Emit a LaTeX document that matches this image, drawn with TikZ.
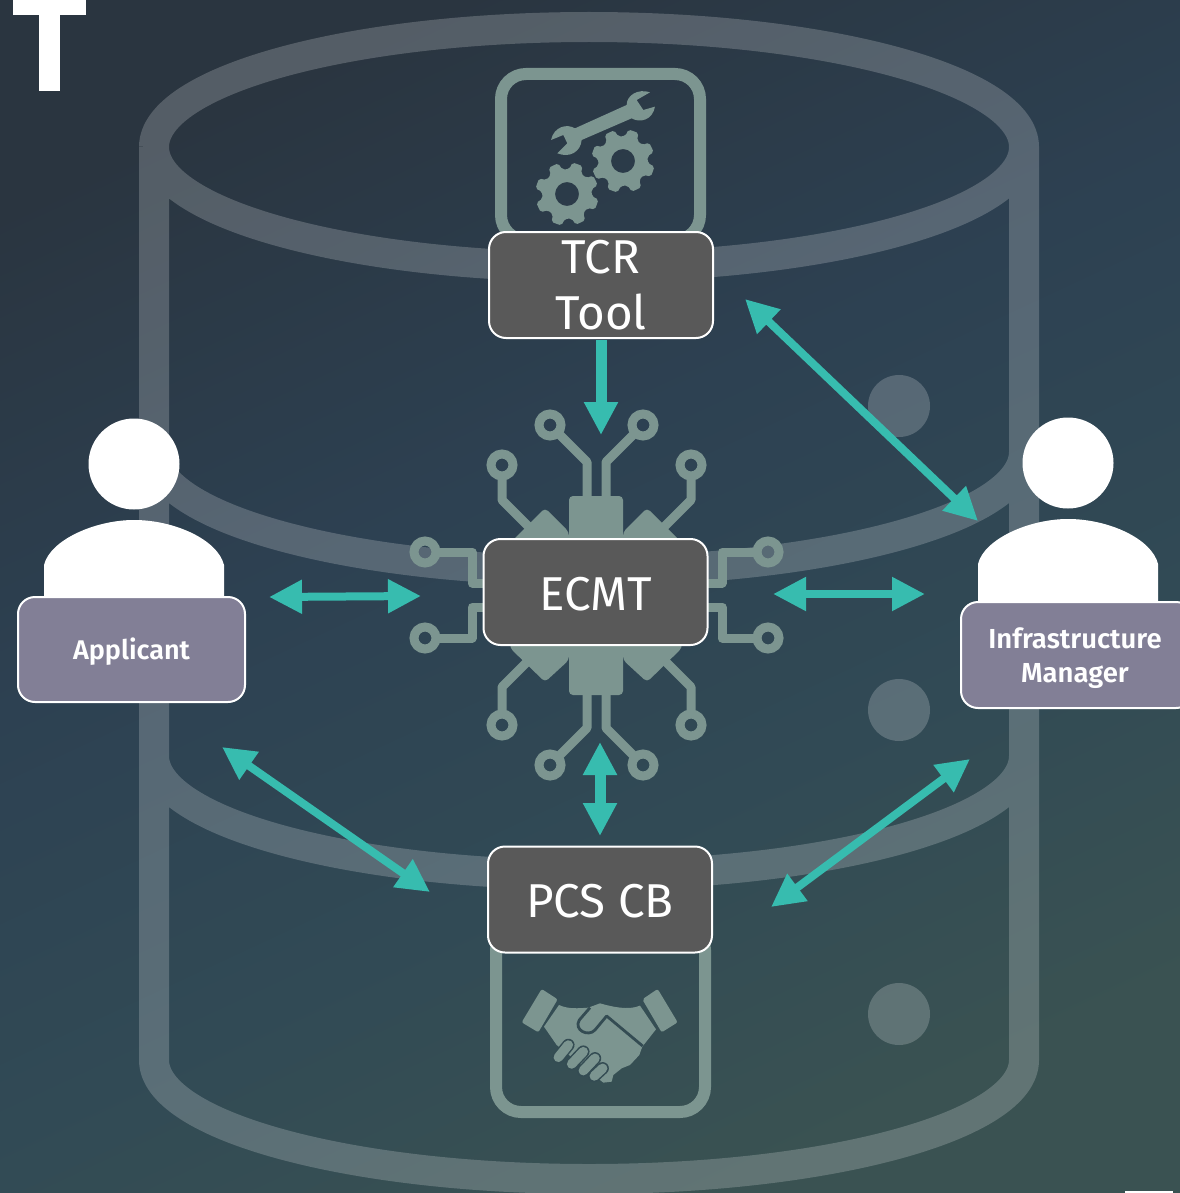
\documentclass[tikz,border=0pt]{standalone}
\usepackage{fontspec}
\setmainfont{Fira Sans}[BoldFont=* SemiBold]
\usetikzlibrary{arrows.meta,calc}
\definecolor{bandc}{RGB}{255,255,255}
\definecolor{iconc}{HTML}{7C9590}
\definecolor{tealc}{HTML}{37BCAF}
\definecolor{boxc}{HTML}{595959}
\definecolor{rolec}{HTML}{827F96}
\definecolor{bgA}{HTML}{2A3540}
\definecolor{bgB}{HTML}{2D4152}
\definecolor{bgD}{HTML}{314A55}
\definecolor{bgC}{HTML}{3A5252}
\definecolor{bgH}{HTML}{344C53}
\pgfdeclareverticalshading{bgsh}{100bp}{color(0bp)=(bgC); color(25bp)=(bgC); color(40bp)=(bgD); color(56bp)=(bgB); color(75bp)=(bgA); color(100bp)=(bgA)}
\tikzset{
  x=1pt,y=-1pt,
  band/.style={draw=bandc,draw opacity=.2,line width=30pt,line join=round},
  dotc/.style={fill=bandc,fill opacity=.2},
  frameicon/.style={draw=iconc,line width=12pt,rounded corners=25pt},
  trace/.style={draw=iconc,line width=9pt,line join=round,line cap=round},
  ring/.style={draw=iconc,line width=9pt},
  iconfill/.style={fill=iconc},
  darkbox/.style={draw=white,line width=2pt,fill=boxc,rounded corners=17pt,text=white,
     font=\fontsize{47.5}{56}\selectfont,align=center,inner sep=0pt,minimum width=224pt,minimum height=106pt},
  rolebox/.style={draw=white,line width=2pt,fill=rolec,rounded corners=17pt,text=white,
     font=\bfseries\fontsize{27}{34}\selectfont,align=center,inner sep=0pt,minimum width=227pt,minimum height=105pt},
  link/.style={draw=tealc,line width=8pt,-{Triangle[width=32pt,length=33pt,fill=tealc]}},
  linkv/.style={draw=tealc,line width=11pt,-{Triangle[width=32pt,length=33pt,fill=tealc]}},
  both/.style={draw=tealc,line width=8pt,{Triangle[width=32pt,length=33pt,fill=tealc]}-{Triangle[width=32pt,length=33pt,fill=tealc]}},
}
\newcommand{\mygear}[2]{%
  \fill[iconc,even odd rule,rounded corners=2pt]
    \foreach \i in {0,...,7}{
      \ifnum\i=0 ($(#1,#2)+(\i*45+10:32)$)\else -- ($(#1,#2)+(\i*45+10:32)$)\fi
      -- ($(#1,#2)+(\i*45+29:32)$) -- ($(#1,#2)+(\i*45+34:25)$) -- ($(#1,#2)+(\i*45+50:25)$)
    } -- cycle
    (#1,#2) circle[radius=12];
}
\newcommand{\lowered}[2]{\raisebox{-#1}[\height][\depth]{#2}}
\begin{document}
\begin{tikzpicture}
\useasboundingbox (0,0) rectangle (1179,1193);
\shade[shading=bgsh,shading angle=25] (-2,-2) rectangle (1181,1195);
% cylinder
\path[band]
  (154,147) arc[x radius=435,y radius=120,start angle=180,end angle=-180]
  (154,147) -- (154,1060) arc[x radius=435,y radius=119,start angle=180,end angle=0] -- (1024,147)
  (154,452) arc[x radius=435,y radius=119,start angle=180,end angle=0]
  (154,756) arc[x radius=435,y radius=119,start angle=180,end angle=0];
\foreach \yy in {406,710,1014}{\path[dotc] (899,\yy) circle[radius=31];}
% tool frame
\draw[frameicon] (501,74) rectangle (700,240);
\draw[frameicon] (496,925) rectangle (705,1112);
% wrench and gears
\begin{scope}[shift={(480,60)},x=.3333pt,y=-.3333pt]
\fill[iconc] (285,205) -- (440,135) .. controls (440,105) and (475,85) .. (510,97)
  -- (470,120) -- (490,150) -- (525,140) .. controls (518,180) and (480,190) .. (455,175)
  -- (305,240) .. controls (302,275) and (270,295) .. (232,280)
  -- (262,250) -- (250,225) -- (213,240) .. controls (222,200) and (260,190) .. (285,205) -- cycle;
\end{scope}
\mygear{567}{194}
\mygear{623}{161}
% handshake
\begin{scope}[shift={(480,940)},x=.3333pt,y=-.3333pt]
\fill[iconc,rounded corners=2pt] (185,147) -- (233,178) -- (175,277) -- (125,247) -- cycle;
\fill[iconc,rounded corners=2pt] (533,147) -- (593,247) -- (545,277) -- (487,178) -- cycle;
\fill[iconc] (237,195) .. controls (265,208) and (295,205) .. (325,203) -- (360,190)
  .. controls (395,200) and (445,212) .. (480,197) -- (528,268) -- (487,320)
  -- (478,345) -- (450,375) -- (425,385) -- (400,405) -- (395,425) -- (370,428)
  -- (230,315) -- (192,260) -- cycle;
\draw[bgH,line width=2.8pt,line join=round] (488,318) -- (380,228) -- (345,270)
  .. controls (325,292) and (280,270) .. (298,240) -- (330,203);
\foreach \xa/\ya/\xb/\yb in {235/352/265/315, 275/372/310/335, 310/392/345/355, 343/408/368/385}{
  \draw[bgH,line width=12.5pt,line cap=round] (\xa,\ya) -- (\xb,\yb);
  \draw[iconc,line width=9.5pt,line cap=round] (\xa,\ya) -- (\xb,\yb);
}
\end{scope}
% chip
\fill[iconc,rounded corners=4pt] (569,496) rectangle (623,695);
\fill[iconc,rounded corners=4pt] (545,508) -- (569,532) -- (569,660) -- (545,682) -- (510,648) -- (510,543) -- cycle;
\fill[iconc,rounded corners=4pt] (647,508) -- (623,532) -- (623,660) -- (647,682) -- (682,648) -- (682,543) -- cycle;
\foreach \cx/\cy in {550/425,643/425,502/465,691/465,502/725,691/725,550/765,643/765,425/552,768/552,425/638,768/638}{
  \draw[ring] (\cx,\cy) circle[radius=11];
}
\draw[trace,line cap=butt] (558,433) -- (587,462) -- (587,498);
\draw[trace,line cap=butt] (635,433) -- (606,462) -- (606,498);
\draw[trace,line cap=butt] (502,476) -- (502,500) -- (530,528);
\draw[trace,line cap=butt] (691,476) -- (691,500) -- (663,528);
\draw[trace,line cap=butt] (558,757) -- (587,728) -- (587,693);
\draw[trace,line cap=butt] (635,757) -- (606,728) -- (606,693);
\draw[trace,line cap=butt] (502,714) -- (502,687) -- (530,659);
\draw[trace,line cap=butt] (691,714) -- (691,687) -- (663,659);
\draw[trace,line cap=butt] (436,552) -- (472,552) -- (472,583) -- (490,583);
\draw[trace,line cap=butt] (436,638) -- (472,638) -- (472,607) -- (490,607);
\draw[trace,line cap=butt] (757,552) -- (722,552) -- (722,583) -- (700,583);
\draw[trace,line cap=butt] (757,638) -- (722,638) -- (722,607) -- (700,607);
% people
\fill[white] (134,464) circle[radius=45.5];
\fill[white] (44,610) -- (44,565) .. controls (50,540) and (95,520) .. (134,520) .. controls (175,520) and (218,540) .. (224,565) -- (224,610) -- cycle;
\fill[white] (1068,463) circle[radius=45.5];
\fill[white] (978,612) -- (978,564) .. controls (984,539) and (1029,519) .. (1068,519) .. controls (1109,519) and (1152,539) .. (1158,564) -- (1158,612) -- cycle;
% nodes
\node[darkbox] (tcr) at (601,285) {TCR\\Tool};
\node[darkbox] (ecmt) at (595.5,592) {\lowered{2pt}{ECMT}};
\node[darkbox] (pcs) at (600,899.5) {\lowered{2pt}{PCS CB}};
\node[rolebox] (app) at (131.5,649.5) {\lowered{2pt}{Applicant}};
\node[rolebox,minimum width=232pt,minimum height=106pt] (im) at (1077,655) {};
\node[font=\bfseries\fontsize{27.5}{34}\selectfont,text=white,align=center,inner sep=0pt] (imt) at (1075,658) {Infrastructure\\Manager};
% connector ends
\coordinate (a1) at (601,340);
\coordinate (a2) at (601,435);
\coordinate (b1) at (745,299);
\coordinate (b2) at (978,521);
\coordinate (c1) at (269,597);
\coordinate (c2) at (421,596);
\coordinate (d1) at (773,594);
\coordinate (d2) at (925,594);
\coordinate (e1) at (600,742);
\coordinate (e2) at (600,836);
\coordinate (f1) at (222,747);
\coordinate (f2) at (430,892);
\coordinate (g1) at (970,759);
\coordinate (g2) at (771,907);
\draw[linkv] (a1) -- (a2);
\draw[both] (b1) -- (b2);
\draw[both] (c1) -- (c2);
\draw[both] (d1) -- (d2);
\draw[both,line width=11pt] (e1) -- (e2);
\draw[both] (f1) -- (f2);
\draw[both] (g1) -- (g2);
% clipped corner marks
\fill[white] (13,-2) rectangle (86,15);
\fill[white] (39,10) rectangle (60,91);
\fill[white] (1125,1195) -- (1125,1190.5) -- (1173,1190.5) -- (1173,1195) -- cycle;
\end{tikzpicture}
\end{document}
